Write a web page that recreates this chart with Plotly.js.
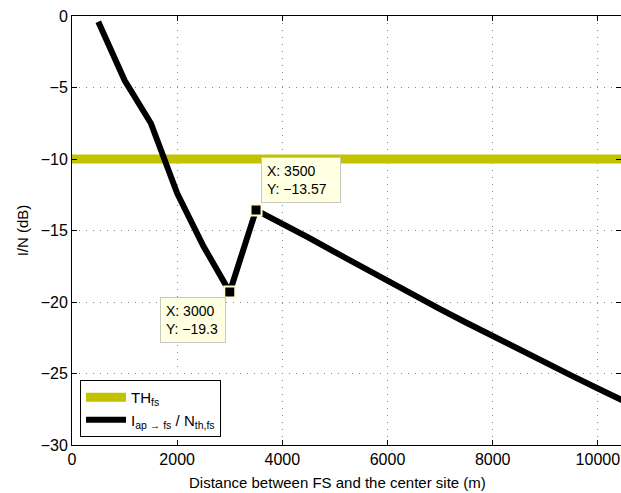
<!DOCTYPE html>
<html>
<head>
<meta charset="utf-8">
<script src="https://cdn.plot.ly/plotly-3.0.1.min.js"></script>
<style>html,body{margin:0;padding:0;background:#fff;}#chart{width:621px;height:493px;}</style>
</head>
<body>
<div id="chart"></div>
<script>
// Data
const distance = [500, 1000, 1500, 2000, 2500, 3000, 3500, 4000, 4500, 5000, 5500, 6000, 6500, 7000, 7500, 8000, 8500, 9000, 9500, 10000, 10500];
const iOverN   = [-0.4, -4.5, -7.5, -12.4, -16.1, -19.3, -13.57, -14.5, -15.5, -16.52, -17.54, -18.54, -19.53, -20.5, -21.45, -22.4, -23.33, -24.25, -25.15, -26.05, -26.93];
const thresholdX = [0, 10500];
const thresholdY = [-10, -10];
const tipIndices = [5, 6];
const xTicks = [0, 2000, 4000, 6000, 8000, 10000];
const yTicks = [-30, -25, -20, -15, -10, -5, 0];
const xTitle = 'Distance between FS and the center site (m)';
const yTitle = 'I/N (dB)';

const FONT = 'Liberation Sans, Arial, Helvetica, sans-serif';
const fmtNeg = v => (v < 0 ? '\u2212' + Math.abs(v) : String(v));

const traces = [
  {
    x: thresholdX, y: thresholdY, mode: 'lines', name: 'TH<sub>fs</sub>',
    line: {color: '#c2c200', width: 9}
  },
  {
    x: distance, y: iOverN, mode: 'lines',
    name: 'I<sub>ap \u2192 fs</sub> / N<sub>th,fs</sub>',
    line: {color: '#000000', width: 6}
  },
  {
    x: tipIndices.map(i => distance[i]), y: tipIndices.map(i => iOverN[i]),
    mode: 'markers', showlegend: false,
    marker: {symbol: 'square', size: 11, color: '#000000', line: {color: '#ffffd0', width: 2}}
  }
];

const tipStyle = {
  showarrow: false, align: 'left', bgcolor: '#ffffe1', bordercolor: '#c8c8c0',
  borderwidth: 1, borderpad: 5, font: {family: FONT, size: 14, color: '#000'}
};
const annotations = [
  Object.assign({}, tipStyle, {
    x: distance[6], y: iOverN[6], xref: 'x', yref: 'y',
    text: 'X: ' + distance[6] + '<br>Y: ' + fmtNeg(iOverN[6]),
    xanchor: 'left', yanchor: 'bottom', xshift: 5, yshift: 7, width: 68
  }),
  Object.assign({}, tipStyle, {
    x: distance[5], y: iOverN[5], xref: 'x', yref: 'y',
    text: 'X: ' + distance[5] + '<br>Y: ' + fmtNeg(iOverN[5]),
    xanchor: 'right', yanchor: 'top', xshift: -4, yshift: -5, width: 54
  }),
  {
    xref: 'paper', yref: 'paper', x: 0.483, y: 0, yshift: -27,
    xanchor: 'center', yanchor: 'top', showarrow: false,
    text: xTitle, font: {family: FONT, size: 15, color: '#000'}
  }
];

const axisCommon = {
  showline: true, linecolor: '#000', linewidth: 1, mirror: 'ticks',
  ticks: 'inside', ticklen: 5, tickcolor: '#000',
  showgrid: true, gridcolor: '#8a8a8a', griddash: '1px,6px', gridwidth: 1,
  zeroline: false,
  tickfont: {family: FONT, size: 16, color: '#000'}
};

const layout = {
  width: 621, height: 493,
  margin: {l: 72, r: 0, t: 16, b: 48},
  paper_bgcolor: '#fff', plot_bgcolor: '#fff',
  showlegend: true,
  legend: {
    x: 0.0146, y: 0.0186, xanchor: 'left', yanchor: 'bottom',
    bgcolor: '#fff', bordercolor: '#000', borderwidth: 1,
    font: {family: FONT, size: 15, color: '#000'},
    itemwidth: 40
  },
  xaxis: Object.assign({}, axisCommon, {
    range: [0, 10440], tickvals: xTicks, ticktext: xTicks.map(String)
  }),
  yaxis: Object.assign({}, axisCommon, {
    range: [-30, 0], tickvals: yTicks, ticktext: yTicks.map(fmtNeg),
    title: {text: yTitle, standoff: 8, font: {family: FONT, size: 15, color: '#000'}}
  }),
  annotations: annotations
};

Plotly.newPlot('chart', traces, layout, {displayModeBar: false, staticPlot: true});
</script>
</body>
</html>
